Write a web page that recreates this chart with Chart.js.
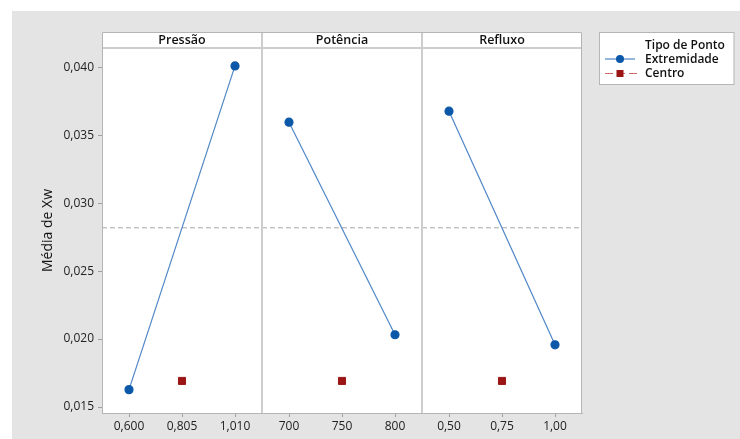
<!DOCTYPE html>
<html>
<head>
<meta charset="utf-8">
<title>Média de Xw</title>
<script src="https://cdn.jsdelivr.net/npm/chart.js@4"></script>
<style>
  body { margin: 0; background: #fff; }
  canvas { display: block; }
</style>
</head>
<body>
<canvas id="chart" width="740" height="439"></canvas>
<script>
// painéis (fatores) e níveis
const factors = ['Pressão', 'Potência', 'Refluxo'];
const pressaoLevels = [0.600, 0.805, 1.010];
const potenciaLevels = [700, 750, 800];
const refluxoLevels = [0.50, 0.75, 1.00];

// médias de Xw nos pontos extremos (nível baixo, nível alto)
const pressaoMeans = [0.01628, 0.0401];
const potenciaMeans = [0.03596, 0.02032];
const refluxoMeans = [0.03677, 0.01958];

// ponto central (igual para os três fatores)
const centroMean = 0.01692;
const grandMean = 0.02819;

const yTicks = [0.015, 0.020, 0.025, 0.030, 0.035, 0.040];

const blueLine = '#4f86c6';
const blueMark = '#0b57a8';
const redMark = '#9b1515';
const FONT = "'Open Sans', 'Noto Sans', sans-serif";

Chart.defaults.font.family = FONT;
Chart.defaults.color = '#222';

function extremos(levels, means, axis) {
  return {
    data: [{ x: levels[0], y: means[0] }, { x: levels[2], y: means[1] }],
    xAxisID: axis,
    showLine: true,
    borderColor: blueLine,
    borderWidth: 1.2,
    backgroundColor: blueMark,
    pointBackgroundColor: blueMark,
    pointBorderColor: blueMark,
    pointRadius: 4,
    pointStyle: 'circle'
  };
}

function centro(levels, axis) {
  return {
    data: [{ x: levels[1], y: centroMean }],
    xAxisID: axis,
    showLine: false,
    pointBackgroundColor: redMark,
    pointBorderColor: redMark,
    pointRadius: 5,
    pointStyle: 'rect'
  };
}

function xAxis(levels, decimals) {
  const step = levels[1] - levels[0];
  const half = step * 80 / 53;
  return {
    type: 'linear',
    position: 'bottom',
    stack: 'painel',
    stackWeight: 1,
    min: levels[1] - half,
    max: levels[1] + half,
    afterBuildTicks: s => { s.ticks = levels.map(v => ({ value: v })); },
    afterFit: s => { s.height = 26; },
    ticks: {
      padding: 2,
      autoSkip: false,
      maxRotation: 0,
      font: { size: 12 },
      color: '#222',
      callback: v => v.toFixed(decimals).replace('.', ',')
    },
    grid: { display: true, drawOnChartArea: false, tickLength: 4, color: '#a0a0a0' },
    border: { display: true, color: '#b5b5b5', width: 1 }
  };
}

const panelPlugin = {
  id: 'painel',
  beforeDraw(chart) {
    const ctx = chart.ctx;
    const a = chart.chartArea;
    ctx.save();
    ctx.fillStyle = '#ffffff';
    ctx.fillRect(0, 0, chart.width, chart.height);
    ctx.fillStyle = '#e4e4e4';
    ctx.fillRect(12, 11, chart.width - 12, chart.height - 11);
    // área dos painéis e faixa de títulos
    ctx.fillStyle = '#ffffff';
    ctx.fillRect(a.left, a.top - 16, a.right - a.left, a.bottom - a.top + 16);
    ctx.restore();
  },
  beforeDatasetsDraw(chart) {
    const ctx = chart.ctx;
    const a = chart.chartArea;
    const y = chart.scales.y.getPixelForValue(grandMean);
    ctx.save();
    ctx.strokeStyle = '#a8a8a8';
    ctx.lineWidth = 1;
    ctx.setLineDash([5, 3]);
    ctx.beginPath();
    ctx.moveTo(a.left, y);
    ctx.lineTo(a.right, y);
    ctx.stroke();
    ctx.setLineDash([]);

    // moldura, divisórias e títulos dos painéis
    const top = a.top - 16;
    ctx.strokeStyle = '#cdcdcd';
    ctx.lineWidth = 2;
    ctx.beginPath();
    ctx.moveTo(a.left, a.top);
    ctx.lineTo(a.right, a.top);
    ['x2', 'x3'].forEach(id => {
      const s = chart.scales[id];
      ctx.moveTo(s.left, top);
      ctx.lineTo(s.left, a.bottom);
    });
    ctx.stroke();
    ctx.strokeStyle = '#b5b5b5';
    ctx.lineWidth = 1;
    ctx.beginPath();
    ctx.moveTo(a.left + 0.5, a.bottom);
    ctx.lineTo(a.left + 0.5, top + 0.5);
    ctx.lineTo(a.right - 0.5, top + 0.5);
    ctx.lineTo(a.right - 0.5, a.bottom);
    ctx.stroke();

    ctx.fillStyle = '#111';
    ctx.font = '600 12.5px ' + FONT;
    ctx.textAlign = 'center';
    ctx.textBaseline = 'middle';
    ['x1', 'x2', 'x3'].forEach((id, i) => {
      const s = chart.scales[id];
      ctx.fillText(factors[i], (s.left + s.right) / 2, top + 8.5);
    });
    ctx.restore();
  },
  afterDraw(chart) {
    const ctx = chart.ctx;
    ctx.save();
    ctx.fillStyle = '#ffffff';
    ctx.fillRect(599.5, 32.5, 134.5, 52);
    ctx.strokeStyle = '#b5b5b5';
    ctx.lineWidth = 1;
    ctx.strokeRect(599.5, 32.5, 134.5, 52);

    ctx.fillStyle = '#111';
    ctx.font = '600 12px ' + FONT;
    ctx.textAlign = 'left';
    ctx.textBaseline = 'middle';
    ctx.fillText('Tipo de Ponto', 645, 45.5);
    ctx.fillText('Extremidade', 645, 59.5);
    ctx.fillText('Centro', 645, 74);

    ctx.strokeStyle = blueLine;
    ctx.lineWidth = 1.2;
    ctx.beginPath();
    ctx.moveTo(605, 59);
    ctx.lineTo(635, 59);
    ctx.stroke();
    ctx.fillStyle = blueMark;
    ctx.beginPath();
    ctx.arc(620, 59, 4, 0, Math.PI * 2);
    ctx.fill();

    ctx.strokeStyle = '#c86a6a';
    ctx.setLineDash([8, 4]);
    ctx.beginPath();
    ctx.moveTo(605, 73.5);
    ctx.lineTo(638, 73.5);
    ctx.stroke();
    ctx.setLineDash([]);
    ctx.fillStyle = redMark;
    ctx.fillRect(616.5, 70, 7, 7);
    ctx.restore();
  }
};

new Chart(document.getElementById('chart'), {
  type: 'scatter',
  data: {
    datasets: [
      extremos(pressaoLevels, pressaoMeans, 'x1'),
      centro(pressaoLevels, 'x1'),
      extremos(potenciaLevels, potenciaMeans, 'x2'),
      centro(potenciaLevels, 'x2'),
      extremos(refluxoLevels, refluxoMeans, 'x3'),
      centro(refluxoLevels, 'x3')
    ]
  },
  options: {
    responsive: false,
    animation: false,
    layout: { padding: { left: 0, top: 48, right: 158, bottom: 0 } },
    plugins: {
      legend: { display: false },
      tooltip: { enabled: false }
    },
    scales: {
      x1: xAxis(pressaoLevels, 3),
      x2: xAxis(potenciaLevels, 0),
      x3: xAxis(refluxoLevels, 2),
      y: {
        type: 'linear',
        position: 'left',
        min: 0.01456,
        max: 0.04142,
        afterBuildTicks: s => { s.ticks = yTicks.map(v => ({ value: v })); },
        afterFit: s => { s.width = 102; },
        ticks: {
          padding: 4,
          font: { size: 12 },
          color: '#222',
          callback: v => v.toFixed(3).replace('.', ',')
        },
        grid: { display: true, drawOnChartArea: false, tickLength: 4, color: '#a0a0a0' },
        border: { display: true, color: '#b5b5b5', width: 1 },
        title: {
          display: true,
          text: 'Média de Xw',
          font: { size: 14 },
          color: '#111',
          padding: { top: 40, bottom: 0 }
        }
      }
    }
  },
  plugins: [panelPlugin]
});
</script>
</body>
</html>
